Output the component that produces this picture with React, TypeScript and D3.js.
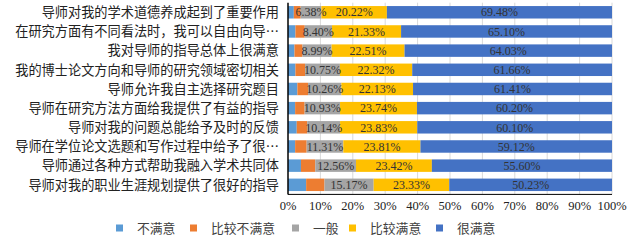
import React from "react";
import * as d3 from "d3";

const categories = [
  "导师对我的学术道德养成起到了重要作用",
  "在研究方面有不同看法时，我可以自由向导…",
  "我对导师的指导总体上很满意",
  "我的博士论文方向和导师的研究领域密切相关",
  "导师允许我自主选择研究题目",
  "导师在研究方法方面给我提供了有益的指导",
  "导师对我的问题总能给予及时的反馈",
  "导师在学位论文选题和写作过程中给予了很…",
  "导师通过各种方式帮助我融入学术共同体",
  "导师对我的职业生涯规划提供了很好的指导",
];

const seriesNames = ["不满意", "比较不满意", "一般", "比较满意", "很满意"];
const notSatisfied = [1.8, 2.3, 2.0, 2.3, 2.9, 2.2, 2.7, 2.2, 4.0, 5.6];
const lessSatisfied = [2.12, 2.87, 2.47, 2.97, 3.3, 2.93, 3.23, 3.56, 4.42, 5.67];
const neutral = [6.38, 8.4, 8.99, 10.75, 10.26, 10.93, 10.14, 11.31, 12.56, 15.17];
const fairlySatisfied = [20.22, 21.33, 22.51, 22.32, 22.13, 23.74, 23.83, 23.81, 23.42, 23.33];
const verySatisfied = [69.48, 65.1, 64.03, 61.66, 61.41, 60.2, 60.1, 59.12, 55.6, 50.23];
const labeledSeries = [false, false, true, true, true];
const xTicks = [0, 10, 20, 30, 40, 50, 60, 70, 80, 90, 100];

const colors = ["#5B9BD5", "#ED7D31", "#A5A5A5", "#FFC000", "#4472C4"];

const W = 635;
const H = 241;
const plotLeft = 288;
const plotRight = 612;
const plotTop = 2.7;
const plotBottom = 194.4;

const cjk = "'Noto Sans CJK SC', sans-serif";
const serif = "'Liberation Serif', 'Times New Roman', serif";

export default function App() {
  const rows = categories.map((c, i) => ({
    cat: c,
    [seriesNames[0]]: notSatisfied[i],
    [seriesNames[1]]: lessSatisfied[i],
    [seriesNames[2]]: neutral[i],
    [seriesNames[3]]: fairlySatisfied[i],
    [seriesNames[4]]: verySatisfied[i],
  }));
  const stack = d3.stack<any>().keys(seriesNames);
  const layers = stack(rows as any);

  const x = d3.scaleLinear().domain([0, 100]).range([plotLeft, plotRight]);
  const y = d3
    .scaleBand<string>()
    .domain(categories)
    .range([plotTop, plotBottom])
    .paddingInner(0.35)
    .paddingOuter(0.175);

  const legendSq = [116, 190, 292, 349, 436];

  return (
    <svg
      width={W}
      height={H}
      style={{ position: "absolute", left: 0, top: 0, background: "#fff" }}
    >
      <rect x={0} y={0} width={W} height={H} fill="#fff" />
      {xTicks.slice(1).map((t) => (
        <line
          key={t}
          x1={x(t)}
          x2={x(t)}
          y1={plotTop}
          y2={plotBottom}
          stroke="#D9D9D9"
          strokeWidth={1}
        />
      ))}
      {layers.map((layer, si) => (
        <g key={layer.key} fill={colors[si]}>
          {layer.map((d, i) => (
            <rect
              key={i}
              x={x(d[0])}
              y={y(categories[i])}
              width={x(d[1]) - x(d[0])}
              height={y.bandwidth()}
            />
          ))}
        </g>
      ))}
      {layers.map((layer, si) =>
        labeledSeries[si]
          ? layer.map((d, i) => (
              <text
                key={layer.key + i}
                x={x((d[0] + d[1]) / 2)}
                y={(y(categories[i]) as number) + y.bandwidth() / 2}
                dy="0.35em"
                textAnchor="middle"
                fontFamily={serif}
                fontSize={12}
                fill="#333"
              >
                {(d[1] - d[0]).toFixed(2)}%
              </text>
            ))
          : null
      )}
      <line x1={plotLeft} x2={plotLeft} y1={plotTop} y2={plotBottom} stroke="#000" strokeWidth={1.5} />
      <line x1={plotLeft} x2={plotRight} y1={plotBottom} y2={plotBottom} stroke="#000" strokeWidth={1} />
      {categories.map((c) => (
        <text
          key={c}
          x={279}
          y={(y(c) as number) + y.bandwidth() / 2}
          dy="0.36em"
          textAnchor="end"
          fontFamily={cjk}
          fontSize={13.2}
          fill="#222"
        >
          {c}
        </text>
      ))}
      {xTicks.map((t) => (
        <text
          key={t}
          x={x(t)}
          y={210}
          textAnchor="middle"
          fontFamily={serif}
          fontSize={12.5}
          fill="#222"
        >
          {t}%
        </text>
      ))}
      {seriesNames.map((s, i) => (
        <g key={s}>
          <rect x={legendSq[i]} y={224.5} width={7} height={7} fill={colors[i]} />
          <text
            x={legendSq[i] + 21}
            y={228}
            dy="0.36em"
            fontFamily={cjk}
            fontSize={12.8}
            fill="#404040"
          >
            {s}
          </text>
        </g>
      ))}
    </svg>
  );
}
